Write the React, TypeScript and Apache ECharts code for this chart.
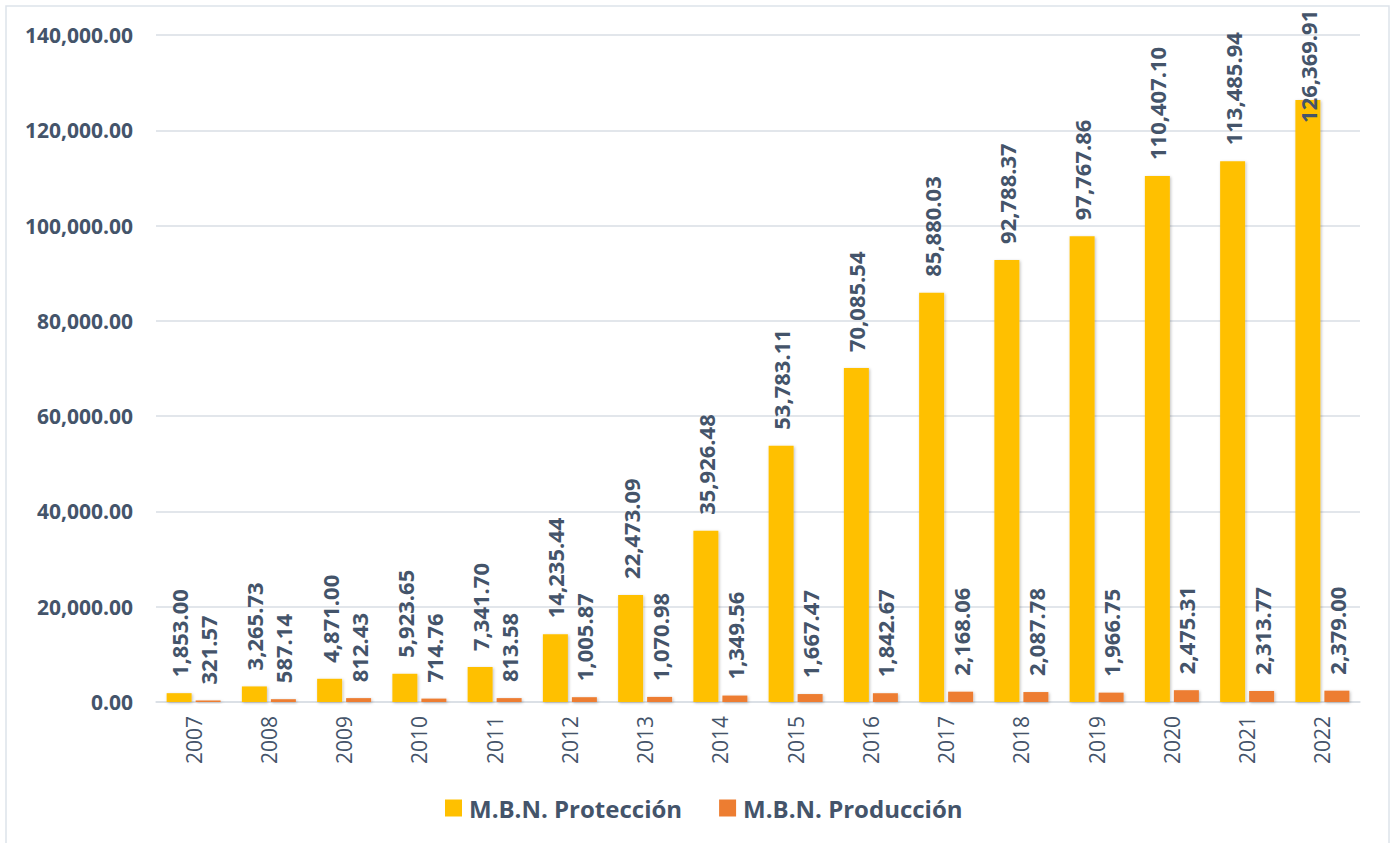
import React, { useEffect, useRef } from "react";
import * as echarts from "echarts";

const years = ["2007","2008","2009","2010","2011","2012","2013","2014","2015","2016","2017","2018","2019","2020","2021","2022"];
const proteccion = [1853.0, 3265.73, 4871.0, 5923.65, 7341.7, 14235.44, 22473.09, 35926.48, 53783.11, 70085.54, 85880.03, 92788.37, 97767.86, 110407.1, 113485.94, 126369.91];
const produccion = [321.57, 587.14, 812.43, 714.76, 813.58, 1005.87, 1070.98, 1349.56, 1667.47, 1842.67, 2168.06, 2087.78, 1966.75, 2475.31, 2313.77, 2379.0];
const seriesNames = ["M.B.N. Protección", "M.B.N. Producción"];
const yTicks = { min: 0, max: 140000, interval: 20000 };

const TEXT = "#44546A";
const FONT = "'Open Sans', 'Noto Sans', sans-serif";
const fmt = (v: number) => v.toLocaleString("en-US", { minimumFractionDigits: 2, maximumFractionDigits: 2 });

export default function App() {
  const ref = useRef<HTMLDivElement>(null);
  useEffect(() => {
    const chart = echarts.init(ref.current!, undefined, { renderer: "svg" });
    const shadow = { shadowBlur: 3, shadowColor: "rgba(0,0,0,0.25)", shadowOffsetX: 1, shadowOffsetY: 1 };
    const labelBase = {
      show: true,
      position: "top",
      rotate: 90,
      align: "left",
      verticalAlign: "middle",
      distance: 16,
      color: TEXT,
      fontFamily: FONT,
      fontWeight: "bold",
      fontSize: 22,
      formatter: (p: any) => fmt(p.value),
    };
    const protData = proteccion.map((v, i) =>
      i === proteccion.length - 1 ? { value: v, label: { offset: [-39, 0] } } : v
    );
    chart.setOption({
      animation: false,
      textStyle: { fontFamily: FONT },
      graphic: [
        {
          type: "rect",
          shape: { x: 6, y: 6, width: 1383, height: 860 },
          style: { fill: "none", stroke: "#DDE3EA", lineWidth: 1.5 },
          silent: true,
        },
      ],
      grid: { left: 156, right: 35, top: 35, bottom: 141 },
      legend: {
        data: seriesNames,
        top: 791,
        left: 440,
        itemWidth: 17,
        itemHeight: 17,
        itemGap: 37,
        icon: "rect",
        textStyle: { color: TEXT, fontFamily: FONT, fontWeight: "bold", fontSize: 24, lineHeight: 24, padding: [0, 0, 0, 2] },
      },
      xAxis: {
        type: "category",
        data: years,
        axisTick: { show: false },
        axisLine: { lineStyle: { color: "#D9DEE5", width: 1.5 } },
        axisLabel: { rotate: 90, margin: 14, color: TEXT, fontFamily: FONT, fontSize: 21 },
      },
      yAxis: {
        type: "value",
        min: yTicks.min,
        max: yTicks.max,
        interval: yTicks.interval,
        axisLabel: { margin: 23, color: TEXT, fontFamily: FONT, fontWeight: "bold", fontSize: 21, formatter: (v: number) => fmt(v) },
        splitLine: { lineStyle: { color: "#D9DEE5", width: 1.5 } },
        axisLine: { show: false },
        axisTick: { show: false },
      },
      series: [
        {
          name: seriesNames[0],
          type: "bar",
          data: protData,
          barWidth: 25,
          barGap: "16%",
          itemStyle: { color: "#FFC000", ...shadow },
          label: labelBase,
        },
        {
          name: seriesNames[1],
          type: "bar",
          data: produccion,
          barWidth: 25,
          itemStyle: { color: "#ED7D31", ...shadow },
          label: labelBase,
        },
      ],
    });
    return () => chart.dispose();
  }, []);
  return (
    <div style={{ position: "fixed", left: 0, top: 0, width: 1395, height: 843, background: "#fff" }}>
      <div ref={ref} style={{ width: 1395, height: 843 }} />
    </div>
  );
}
